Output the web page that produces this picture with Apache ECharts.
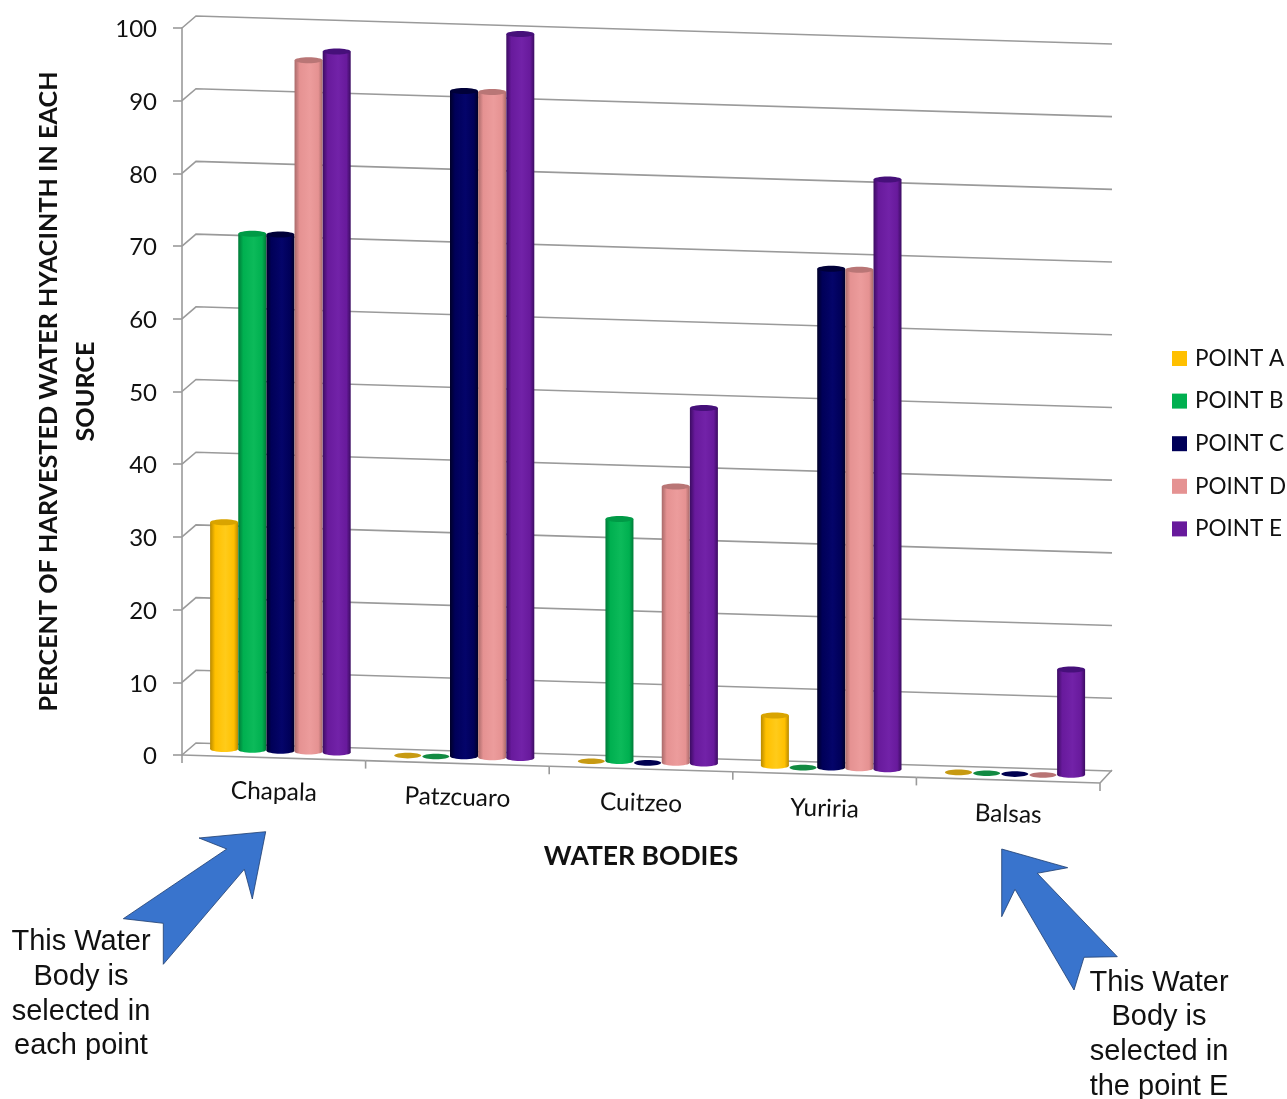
<!DOCTYPE html>
<html>
<head>
<meta charset="utf-8">
<style>html,body{margin:0;padding:0;background:#fff}#chart{width:1287px;height:1099px}</style>
<script src="https://cdn.jsdelivr.net/npm/echarts@6/dist/echarts.min.js"></script>
</head>
<body>
<div id="chart"></div>
<script>
// Share of harvested water hyacinth per water body and sampling point
const waterBodies = ['Chapala', 'Patzcuaro', 'Cuitzeo', 'Yuriria', 'Balsas'];
const pointA = [31.2, 0, 0, 6.9, 0];
const pointB = [71, 0, 33.3, 0, 0];
const pointC = [71, 91.5, 0, 68.6, 0];
const pointD = [95.1, 91.5, 38, 68.6, 0];
const pointE = [96.4, 99.6, 48.9, 81.1, 14.5];
const gridValues = [0, 10, 20, 30, 40, 50, 60, 70, 80, 90, 100];

const pointNames = ['POINT A', 'POINT B', 'POINT C', 'POINT D', 'POINT E'];
const pointValues = [pointA, pointB, pointC, pointD, pointE];
// edge, body, highlight, cap, flat disc
const palette = [
  ['#b98a00', '#ffc000', '#ffcb1a', '#d9a400', '#c79a12'],
  ['#007a38', '#00b050', '#0cba5a', '#009a46', '#128a42'],
  ['#000028', '#000058', '#04046a', '#000038', '#000050'],
  ['#a96a6a', '#e59292', '#ec9c9c', '#b97676', '#b87474'],
  ['#3c0c62', '#681a9c', '#7222a8', '#46107a', '#5a1a8a']
];

// The floor of the 3D box falls to the right; depth moves marks into the box
const SLOPE = 0.0305;
const AXIS_X = 182;
const DEPTH_X = 14, DEPTH_Y = 12;
const BAR_STEP = 28.15 / 183.6;
const BAR_W = 28 / 183.6;

const shear = (x, y) => y + SLOPE * (x - AXIS_X);

function cylinder(pointIndex) {
  const c = palette[pointIndex];
  return function (params, api) {
    const band = api.size([1, 0])[0];
    const top = api.coord([api.value(0), api.value(1)]);
    const base = api.coord([api.value(0), 0]);
    const cx = top[0] + (pointIndex - 2) * BAR_STEP * band + 6.6;
    const rx = BAR_W * band / 2;
    const yBase = shear(cx, base[1]) - 7.3;
    const yTop = shear(cx, top[1]) - 7.3;
    if (api.value(1) === 0) {
      return { type: 'ellipse', shape: { cx: cx, cy: yBase + 1, rx: rx - 0.5, ry: 2.8 }, style: { fill: c[4] } };
    }
    const body = {
      type: 'linear', x: 0, y: 0, x2: 1, y2: 0,
      colorStops: [
        { offset: 0, color: c[0] }, { offset: 0.18, color: c[1] },
        { offset: 0.55, color: c[2] }, { offset: 0.85, color: c[1] }, { offset: 1, color: c[0] }
      ]
    };
    return {
      type: 'group',
      children: [
        { type: 'ellipse', shape: { cx: cx, cy: yBase, rx: rx, ry: 3 }, style: { fill: body } },
        { type: 'rect', shape: { x: cx - rx, y: yTop, width: rx * 2, height: yBase - yTop }, style: { fill: body } },
        { type: 'ellipse', shape: { cx: cx, cy: yTop, rx: rx, ry: 3 }, style: { fill: c[3] } }
      ]
    };
  };
}

// Wall lines: a short diagonal on the side wall, then the long run along the back wall
function wallLine(params, api) {
  const left = api.coord([0, api.value(0)]);
  const band = api.size([1, 0])[0];
  const x0 = left[0] - band / 2;
  const x1 = x0 + band * waterBodies.length;
  const y0 = left[1];
  return {
    type: 'polyline',
    shape: { points: [[x0, y0], [x0 + DEPTH_X, y0 - DEPTH_Y], [x1 + 12, shear(x1 + 12, y0) - DEPTH_Y - 0.4]] },
    style: { stroke: '#9a9a9a', lineWidth: 1.6, fill: null }
  };
}

// Front floor edge, its ticks and the sheared category names
function floorPart(params, api) {
  const i = api.value(0);
  const c = api.coord([i, 0]);
  const band = api.size([1, 0])[0];
  const xl = c[0] - band / 2, xr = c[0] + band / 2;
  const ln = { stroke: '#9a9a9a', lineWidth: 1.6 };
  const children = [
    { type: 'line', shape: { x1: xl, y1: shear(xl, c[1]), x2: xr, y2: shear(xr, c[1]) }, style: ln },
    { type: 'line', shape: { x1: xr, y1: shear(xr, c[1]), x2: xr, y2: shear(xr, c[1]) + 8 }, style: ln },
    {
      type: 'text', x: c[0], y: shear(c[0], c[1]) + 34, rotation: -0.03,
      style: {
        text: waterBodies[i], fill: '#111', align: 'center', verticalAlign: 'middle',
        font: '24.5px Lato'
      }
    }
  ];
  if (i === 0) {
    children.push({ type: 'line', shape: { x1: xl, y1: c[1], x2: xl, y2: c[1] + 8 }, style: ln });
  }
  if (i === waterBodies.length - 1) {
    children.push({ type: 'line', shape: { x1: xr, y1: shear(xr, c[1]), x2: xr + 12, y2: shear(xr, c[1]) - DEPTH_Y - 1 }, style: ln });
  }
  return { type: 'group', children: children };
}

const series = [
  {
    name: 'walls', type: 'custom', coordinateSystem: 'cartesian2d', silent: true, z: 1,
    data: gridValues.map(v => [v]), encode: { y: 0 }, renderItem: wallLine
  },
  {
    name: 'floor', type: 'custom', coordinateSystem: 'cartesian2d', silent: true, z: 1,
    data: waterBodies.map((n, i) => [i]), encode: { x: 0 }, renderItem: floorPart
  }
];
pointNames.forEach((name, k) => {
  series.push({
    name: name, type: 'custom', coordinateSystem: 'cartesian2d', z: 3 + k,
    itemStyle: { color: palette[k][1] },
    data: pointValues[k].map((v, i) => [i, v]),
    encode: { x: 0, y: 1 },
    renderItem: cylinder(k)
  });
});

function arrow(points) {
  return {
    type: 'polygon', z: 10, shape: { points: points },
    style: { fill: '#3974cd', stroke: '#1d3c6e', lineWidth: 0.8 }
  };
}
function note(text, cx, top) {
  return {
    type: 'text', z: 11, x: cx, y: top,
    style: { text: text, fill: '#111', align: 'center', font: '29px "Liberation Sans"', lineHeight: 34.6 }
  };
}

const chart = echarts.init(document.getElementById('chart'), null, { renderer: 'canvas' });
chart.setOption({
  animation: false,
  backgroundColor: '#fff',
  grid: { left: 182, top: 28, width: 918, height: 727, containLabel: false, outerBoundsMode: 'none' },
  legend: {
    orient: 'vertical', left: 1172, top: 347, padding: 0, itemWidth: 15, itemHeight: 15, itemGap: 19.6,
    selectedMode: false, icon: 'rect', itemStyle: { borderWidth: 0 },
    data: pointNames,
    textStyle: { fontFamily: 'Lato', fontSize: 22.5, color: '#111', padding: [0, 0, 0, 3] }
  },
  xAxis: {
    type: 'category', data: waterBodies, boundaryGap: true,
    axisLine: { show: false }, axisTick: { show: false }, axisLabel: { show: false },
    name: 'WATER BODIES', nameLocation: 'middle', nameGap: 88,
    nameTextStyle: { fontFamily: 'Lato', fontWeight: 'bold', fontSize: 26.5, color: '#111' }
  },
  yAxis: {
    type: 'value', min: 0, max: 100, interval: 10,
    axisLine: { show: true, lineStyle: { color: '#9a9a9a', width: 1.6 } },
    axisTick: { show: true, length: 9, lineStyle: { color: '#9a9a9a', width: 1.6 } },
    axisLabel: {
      margin: 25, color: '#111',
      formatter: v => '{t|' + v + '}',
      rich: { t: { fontFamily: 'Lato', fontSize: 24, color: '#111', padding: [3, 0, 0, 0] } }
    },
    splitLine: { show: false },
    name: 'PERCENT OF HARVESTED WATER HYACINTH IN EACH\nSOURCE',
    nameLocation: 'middle', nameGap: 64, nameRotate: 90,
    nameTextStyle: { fontFamily: 'Lato', fontWeight: 'bold', fontSize: 25.2, color: '#111', lineHeight: 37, align: 'center' }
  },
  series: series,
  graphic: [
    arrow([[265.7, 831.7], [199, 838], [226.7, 849], [123.3, 918.7], [163.3, 923.3], [163.3, 964.3], [244.3, 869.3], [252.3, 899]]),
    arrow([[1001.7, 849], [1067.7, 867.7], [1037.3, 873.3], [1117.3, 956.7], [1084, 957.3], [1074, 990], [1015, 889.3], [1001.7, 916.7]]),
    note('This Water\nBody is\nselected in\neach point', 81, 925),
    note('This Water\nBody is\nselected in\nthe point E', 1159, 965.5)
  ]
});
</script>
</body>
</html>
